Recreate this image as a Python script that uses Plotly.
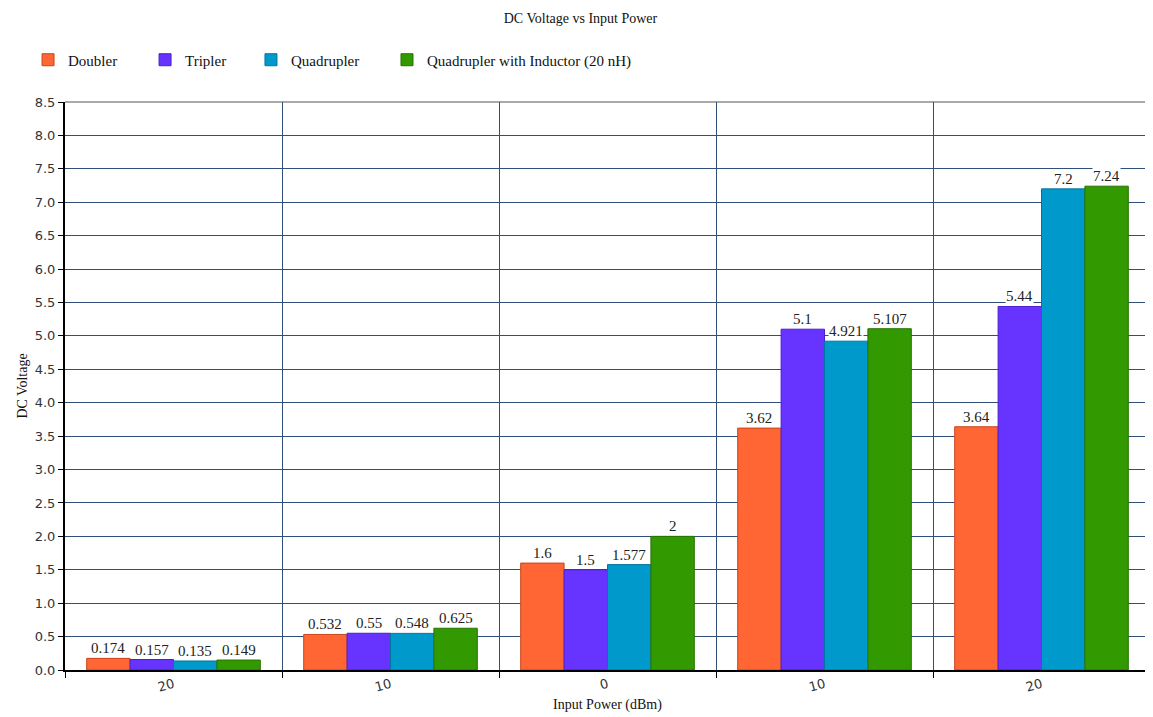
import plotly.graph_objects as go

categories = ["-20 dBm", "-10 dBm", "0 dBm", "10 dBm", "20 dBm"]
tick_text = ["20", "10", "0", "10", "20"]

doubler = [0.174, 0.532, 1.6, 3.62, 3.64]
tripler = [0.157, 0.55, 1.5, 5.1, 5.44]
quadrupler = [0.135, 0.548, 1.577, 4.921, 7.2]
quad_inductor = [0.149, 0.625, 2.0, 5.107, 7.24]

series = [
    ("Doubler", doubler, "#FF6633", "#c8441c"),
    ("Tripler", tripler, "#6633FF", "#4a1fd0"),
    ("Quadrupler", quadrupler, "#0099CC", "#00769e"),
    ("Quadrupler with Inductor (20 nH)", quad_inductor, "#339900", "#267300"),
]

SERIF = "Liberation Serif, DejaVu Serif, serif"
SANS = "DejaVu Sans, Verdana, sans-serif"
GRID = "#2f4f7a"

W, H = 1145, 709
M = dict(l=57, r=3, t=94, b=47)

# one small legend per series so the entries sit where the original has them
legend_names = ["legend", "legend2", "legend3", "legend4"]
legend_x = [0.0175, 0.1197, 0.2122, 0.331]

fig = go.Figure()
for (name, vals, color, edge), lg in zip(series, legend_names):
    fig.add_trace(
        go.Bar(
            x=categories,
            y=vals,
            name=name,
            legend=lg,
            showlegend=True,
            marker=dict(color=color, line=dict(color=edge, width=1)),
        )
    )

# value labels with white boxes, shifted over each bar in the group
plot_w = W - M["l"] - M["r"]
cat_px = plot_w / len(categories)
bar_px = cat_px * 0.8 / len(series)
for i, (name, vals, color, edge) in enumerate(series):
    shift = (i - (len(series) - 1) / 2) * bar_px
    for j, v in enumerate(vals):
        fig.add_annotation(
            x=j,
            y=v,
            xref="x",
            yref="y",
            text=f"{v:g}",
            showarrow=False,
            xshift=shift,
            yanchor="bottom",
            yshift=1,
            bgcolor="white",
            borderpad=0,
            font=dict(family=SERIF, size=15, color="#222"),
        )

# thin grey frame line along the top of the plot
fig.add_shape(type="line", xref="paper", yref="paper", x0=0, x1=1, y0=1, y1=1,
              line=dict(color="#555", width=1))

legend_style = dict(
    orientation="h",
    xref="container",
    yref="container",
    y=0.9267,
    xanchor="left",
    yanchor="middle",
    font=dict(family=SERIF, size=15, color="#111"),
    itemwidth=30,
    bgcolor="rgba(0,0,0,0)",
)

fig.update_layout(
    width=W,
    height=H,
    showlegend=True,
    paper_bgcolor="white",
    plot_bgcolor="white",
    margin=dict(M, autoexpand=False),
    barmode="group",
    bargap=0.2,
    bargroupgap=0,
    title=dict(
        text="DC Voltage vs Input Power",
        x=0.5,
        xanchor="center",
        y=0.993,
        yanchor="top",
        pad=dict(t=0),
        font=dict(family=SERIF, size=14, color="#111"),
    ),
    **{lg: dict(legend_style, x=lx) for lg, lx in zip(legend_names, legend_x)},
    xaxis=dict(
        type="category",
        tickmode="array",
        tickvals=categories,
        ticktext=tick_text,
        tickangle=-15,
        tickson="boundaries",
        ticks="outside",
        ticklen=6,
        tickcolor="black",
        showgrid=True,
        gridcolor=GRID,
        gridwidth=1,
        showline=True,
        linecolor="black",
        linewidth=2,
        tickfont=dict(family=SANS, size=13, color="#333"),
        title=dict(text="Input Power (dBm)", font=dict(family=SERIF, size=14, color="#111"), standoff=6),
    ),
    yaxis=dict(
        range=[0, 8.5],
        dtick=0.5,
        tickformat=".1f",
        ticks="outside",
        ticklen=5,
        tickcolor="black",
        showgrid=True,
        gridcolor=GRID,
        gridwidth=1,
        showline=True,
        linecolor="black",
        linewidth=2,
        zeroline=False,
        tickfont=dict(family=SANS, size=13, color="#333"),
        title=dict(text="DC Voltage", font=dict(family=SERIF, size=14, color="#111"), standoff=4),
    ),
)

fig.write_html("out.html")
